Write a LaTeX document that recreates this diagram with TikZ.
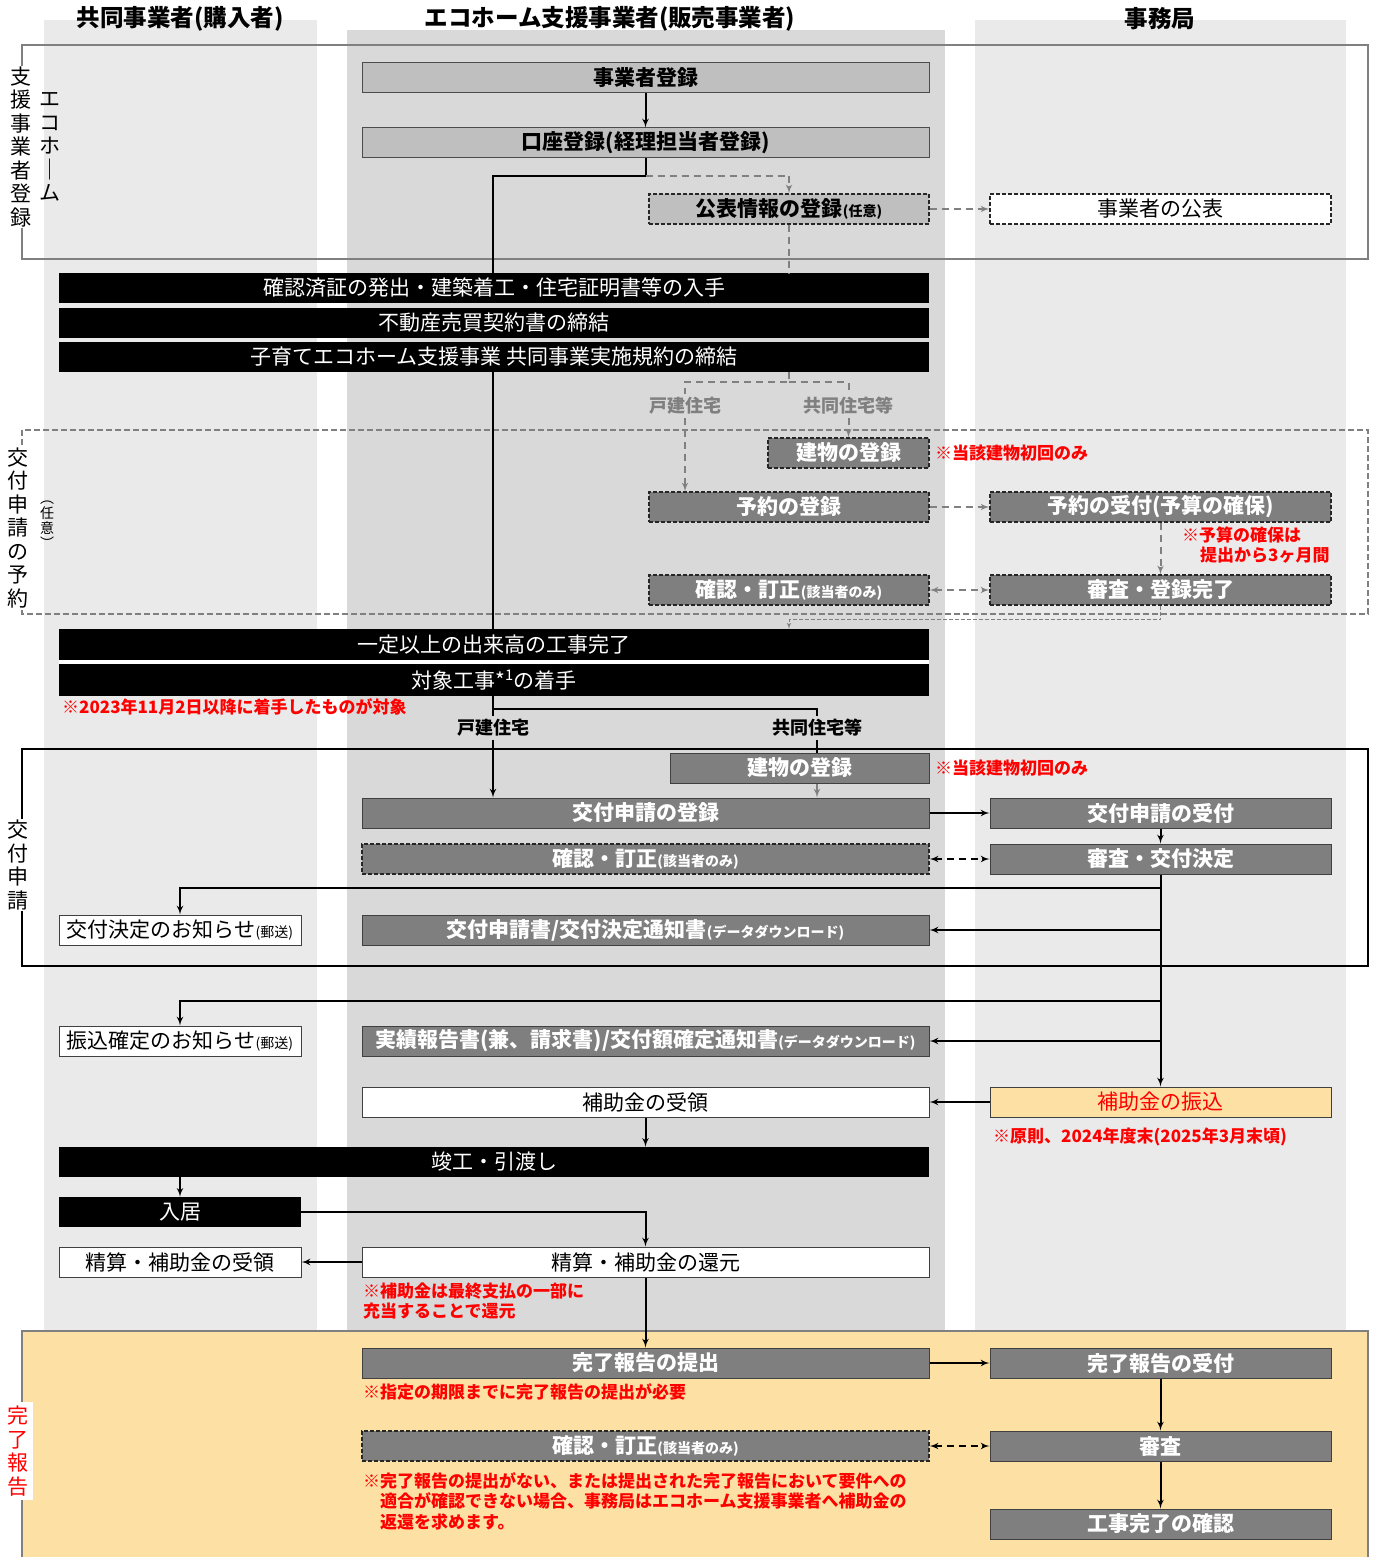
\documentclass[tikz,border=0pt]{standalone}
\usepackage{fontspec}
\setmainfont{Noto Sans CJK JP}
\usepackage{tikz}
\usetikzlibrary{arrows,positioning,calc}
\definecolor{lanelight}{RGB}{234,234,234}
\definecolor{lanemid}{RGB}{217,217,217}
\definecolor{stepgray}{RGB}{127,127,127}
\definecolor{reggray}{RGB}{191,191,191}
\definecolor{framegray}{RGB}{128,128,128}
\definecolor{donefill}{RGB}{252,224,164}
\definecolor{notered}{RGB}{255,0,0}
\newcommand{\subnote}[1]{{\fontsize{14}{15}\selectfont #1}}

\begin{document}
\begin{tikzpicture}[x=1pt, y=-1pt, >=latex',
    every node/.style={inner sep=0pt},
    regbox/.style={rectangle, draw=black!70, line width=1pt, fill=reggray, minimum height=30pt, font=\bfseries\fontsize{21}{22}\selectfont},
    flowbox/.style={rectangle, draw=black!75, line width=1pt, fill=stepgray, text=white, minimum height=30pt, font=\bfseries\fontsize{21}{22}\selectfont},
    optbox/.style={flowbox, draw=black!85, line width=1.3pt, dash pattern=on 4pt off 2pt},
    paperbox/.style={rectangle, draw=black!75, line width=1pt, fill=white, minimum height=30pt, font=\fontsize{21}{22}\selectfont},
    blackbar/.style={rectangle, fill=black, text=white, minimum height=30pt, font=\fontsize{21}{22}\selectfont},
    lanehead/.style={font=\bfseries\fontsize{23.5}{25}\selectfont},
    sidelabel/.style={align=center, inner sep=1pt, font=\fontsize{21}{23.5}\selectfont},
    note/.style={anchor=west, align=left, text=notered, font=\bfseries\fontsize{17}{20.5}\selectfont},
    forklabel/.style={fill=lanemid, inner sep=3pt, font=\bfseries\fontsize{18}{19}\selectfont},
    flow/.style={->, line width=2pt},
    flowline/.style={line width=2pt},
    optflow/.style={->, line width=2pt, framegray, dash pattern=on 7pt off 5pt},
    optline/.style={line width=2pt, framegray, dash pattern=on 7pt off 5pt}]
    \useasboundingbox (0,0) rectangle (1373,1557);

    % lanes
    \fill[lanelight] (44,20) rectangle (317,1331);
    \fill[lanemid] (347,30) rectangle (945,1331);
    \fill[lanelight] (975,20) rectangle (1346,1331);

    \node[lanehead] (hbuyer) at (180,19) {共同事業者(購入者)};
    \node[lanehead] (hseller) at (610,19) {エコホーム支援事業者(販売事業者)};
    \node[lanehead] (hoffice) at (1160,19) {事務局};

    % phase frames
    \draw[framegray, line width=2pt] (22,45) rectangle (1368,259);
    \draw[framegray, line width=2pt, dash pattern=on 6pt off 3pt] (22,430) rectangle (1368,614);
    \draw[black, line width=2pt] (22,749) rectangle (1368,966);
    \draw[framegray, line width=2pt, fill=donefill] (22,1331) rectangle (1368,1570);

    % phase labels
    \node[sidelabel] (sregA) at (50,147) {エ\\コ\\ホ\\｜\\ム};
    \node[sidelabel, fill=white] (sregB) at (21,147) {支\\援\\事\\業\\者\\登\\録};
    \node[sidelabel, fill=white] (sresv) at (18,528) {交\\付\\申\\請\\の\\予\\約};
    \node[sidelabel, font=\fontsize{14}{15}\selectfont] (sopt) at (47,525) {︵\\任\\意\\︶};
    \node[sidelabel, fill=white] (sapply) at (18,865) {交\\付\\申\\請};
    \node[sidelabel, fill=white, text=notered, inner sep=4pt] (sdone) at (18,1451) {完\\了\\報\\告};

    % Define nodes: registration
    \node[regbox, minimum width=567pt] (reg) at (645.5,78) {事業者登録};
    \node[regbox, minimum width=567pt] (acct) at (645.5,143) {口座登録(経理担当者登録)};
    \node[regbox, minimum width=280pt, draw=black!85, line width=1.3pt, dash pattern=on 4pt off 2pt] (pub) at (789,209) {公表情報の登録\subnote{(任意)}};
    \node[paperbox, minimum width=341pt, draw=black!85, line width=1.3pt, dash pattern=on 4pt off 2pt] (publish) at (1160.5,209) {事業者の公表};

    \node[blackbar, minimum width=870pt] (barA) at (494,288) {確認済証の発出・建築着工・住宅証明書等の入手};
    \node[blackbar, minimum width=870pt] (barB) at (494,323) {不動産売買契約書の締結};
    \node[blackbar, minimum width=870pt] (barC) at (494,357) {子育てエコホーム支援事業 共同事業実施規約の締結};

    % reservation
    \node[forklabel, text=framegray] (lblD) at (685,406) {戸建住宅};
    \node[forklabel, text=framegray] (lblM) at (848.5,406) {共同住宅等};
    \node[optbox, minimum width=161pt] (bldgA) at (848.5,453) {建物の登録};
    \node[note] at (935,453) {※当該建物初回のみ};
    \node[optbox, minimum width=280pt] (resv) at (789,507) {予約の登録};
    \node[optbox, minimum width=341pt] (resvR) at (1160.5,507) {予約の受付(予算の確保)};
    \node[note] at (1182,545) {※予算の確保は\\\hspace*{18pt}提出から3ヶ月間};
    \node[optbox, minimum width=280pt] (chkA) at (789,590) {確認・訂正\subnote{(該当者のみ)}};
    \node[optbox, minimum width=341pt] (rvwA) at (1160.5,590) {審査・登録完了};

    \node[blackbar, minimum width=870pt, minimum height=31pt] (barD) at (494,644.5) {一定以上の出来高の工事完了};
    \node[blackbar, minimum width=870pt, minimum height=32pt] (barE) at (494,680) {対象工事*\textsuperscript{1}の着手};
    \fill[white] (barD.south west) rectangle (barE.north east);
    \node[note] at (62,707) {※2023年11月2日以降に着手したものが対象};

    % application
    \node[forklabel] (lblD2) at (493,728) {戸建住宅};
    \node[forklabel] (lblM2) at (817,728) {共同住宅等};
    \node[flowbox, minimum width=259pt] (bldgB) at (799.5,768) {建物の登録};
    \node[note] at (935,768) {※当該建物初回のみ};
    \node[flowbox, minimum width=567pt] (apply) at (645.5,813) {交付申請の登録};
    \node[flowbox, minimum width=341pt] (recv) at (1160.5,813) {交付申請の受付};
    \node[optbox, minimum width=567pt] (chkB) at (645.5,859) {確認・訂正\subnote{(該当者のみ)}};
    \node[flowbox, minimum width=341pt] (decide) at (1160.5,859) {審査・交付決定};
    \node[paperbox, minimum width=242pt] (notice1) at (180,930) {交付決定のお知らせ\subnote{(郵送)}};
    \node[flowbox, minimum width=567pt] (dl1) at (645.5,930) {交付申請書/交付決定通知書\subnote{(データダウンロード)}};

    % payment and handover
    \node[paperbox, minimum width=242pt] (notice2) at (180,1041) {振込確定のお知らせ\subnote{(郵送)}};
    \node[flowbox, minimum width=567pt] (dl2) at (645.5,1041) {実績報告書(兼、請求書)/交付額確定通知書\subnote{(データダウンロード)}};
    \node[paperbox, minimum width=567pt] (recvd) at (645.5,1102) {補助金の受領};
    \node[paperbox, minimum width=341pt, fill=donefill, text=notered] (pay) at (1160.5,1102) {補助金の振込};
    \node[note] at (993,1137) {※原則、2024年度末(2025年3月末頃)};
    \node[blackbar, minimum width=870pt] (handover) at (494,1162) {竣工・引渡し};
    \node[blackbar, minimum width=242pt] (movein) at (180,1212) {入居};
    \node[paperbox, minimum width=567pt] (settle) at (645.5,1262) {精算・補助金の還元};
    \node[paperbox, minimum width=242pt] (settleB) at (180,1262) {精算・補助金の受領};
    \node[note] at (363,1301) {※補助金は最終支払の一部に\\充当することで還元};

    % completion report
    \node[flowbox, minimum width=567pt] (submit) at (645.5,1363) {完了報告の提出};
    \node[flowbox, minimum width=341pt] (accept) at (1160.5,1363) {完了報告の受付};
    \node[note] at (363,1392) {※指定の期限までに完了報告の提出が必要};
    \node[optbox, minimum width=567pt] (chkC) at (645.5,1446) {確認・訂正\subnote{(該当者のみ)}};
    \node[flowbox, minimum width=341pt] (exam) at (1160.5,1446) {審査};
    \node[note] at (363,1501) {※完了報告の提出がない、または提出された完了報告において要件への\\\hspace*{17pt}適合が確認できない場合、事務局はエコホーム支援事業者へ補助金の\\\hspace*{17pt}返還を求めます。};
    \node[flowbox, minimum width=341pt] (confirm) at (1160.5,1524) {工事完了の確認};

    % Define arrows
    \draw[flow] (reg) -- (acct);
    \coordinate (trunk) at (493,176);
    \draw[flowline] (acct.south) |- (trunk) -- (trunk |- barA.north);
    \draw[flowline] (trunk |- barC.south) -- (trunk |- barD.north);
    \draw[flowline] (trunk |- barE.south) -- (lblD2.north);
    \draw[flow] (lblD2.south) -- (lblD2.south |- apply.north);
    \coordinate (branch) at (493,709);
    \draw[flowline] (branch) -| (lblM2.north);
    \draw[flowline] (lblM2.south) -- (lblM2.south |- bldgB.north);
    \draw[optflow] (acct.south |- trunk) -| (pub.north);
    \draw[optflow] (pub) -- (publish);
    \draw[optline] (pub.south) -- (pub.south |- barA.north);
    \coordinate (fork) at (789,382);
    \draw[optline] (pub.south |- barC.south) -- (fork) -| (lblD.north);
    \draw[optline] (fork) -| (lblM.north);
    \draw[optflow] (lblD.south) -- (lblD.south |- resv.north);
    \draw[optflow] (lblM.south) -- (bldgA.north);
    \draw[optflow] (resv) -- (resvR);
    \draw[optflow] (resvR) -- (rvwA);
    \draw[optflow, <->] (chkA) -- (rvwA);
    \draw[->, framegray, line width=1pt, dash pattern=on 4pt off 2pt] (rvwA.south) -- ++(0,14) -| (pub.south |- barD.north);

    \draw[->, framegray, line width=2pt] (bldgB.south -| lblM2) -- (lblM2 |- apply.north);
    \draw[flow] (apply) -- (recv);
    \draw[flow] (recv) -- (decide);
    \draw[flow, <->, dash pattern=on 7pt off 5pt] (chkB) -- (decide);
    \draw[flow] (decide) -- (pay);
    \coordinate (tapA) at (1160.5,888);
    \draw[flow] (tapA) -| (notice1.north);
    \draw[flow] (decide.south |- dl1.east) -- (dl1.east);
    \coordinate (tapB) at (1160.5,1001);
    \draw[flow] (tapB) -| (notice2.north);
    \draw[flow] (decide.south |- dl2.east) -- (dl2.east);
    \draw[flow] (pay) -- (recvd);
    \draw[flow] (recvd.south) -- (recvd.south |- handover.north);
    \draw[flow] (movein.north |- handover.south) -- (movein.north);
    \draw[flow] (movein.east) -| (settle.north);
    \draw[flow] (settle) -- (settleB);
    \draw[flow] (settle) -- (submit);
    \draw[flow] (submit) -- (accept);
    \draw[flow] (accept) -- (exam);
    \draw[flow, <->, dash pattern=on 7pt off 5pt] (chkC) -- (exam);
    \draw[flow] (exam) -- (confirm);

\end{tikzpicture}
\end{document}
